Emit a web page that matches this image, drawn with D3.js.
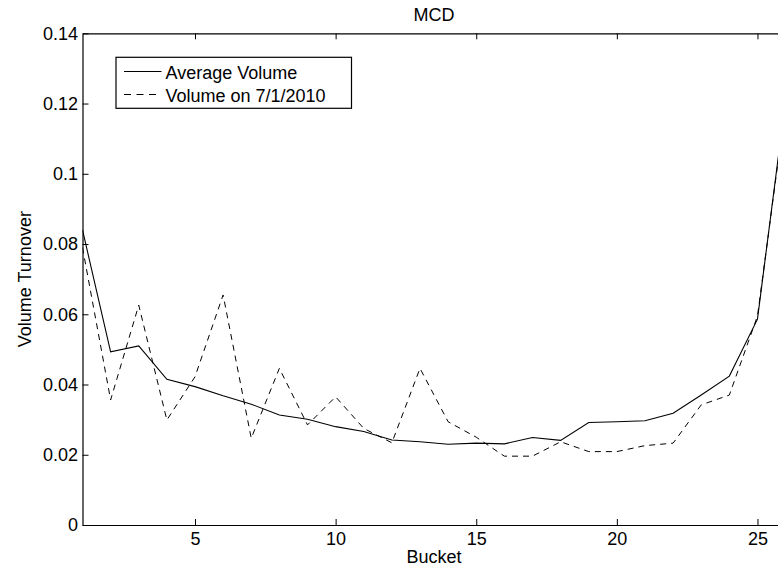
<!DOCTYPE html>
<html>
<head>
<meta charset="utf-8">
<script src="https://cdn.jsdelivr.net/npm/d3@7"></script>
<style>
  body { margin: 0; background: #fff; }
  svg { display: block; font-family: "Liberation Sans", Arial, sans-serif; }
</style>
</head>
<body>
<main></main>
<script>
// Datos
const buckets = d3.range(1, 27);
const avgVolume = [0.084, 0.0493, 0.051, 0.0415, 0.0394, 0.0368, 0.0344, 0.0313, 0.0301, 0.028,
  0.0266, 0.0242, 0.0237, 0.023, 0.0233, 0.0231, 0.0249, 0.0241, 0.0292, 0.0294,
  0.0297, 0.0318, 0.037, 0.0424, 0.0586, 0.121];
const dayVolume = [0.079, 0.0356, 0.0626, 0.0299, 0.0422, 0.0655, 0.0247, 0.0446, 0.0285, 0.0365,
  0.0275, 0.0234, 0.0446, 0.0294, 0.025, 0.0196, 0.0196, 0.0237, 0.0209, 0.0209,
  0.0226, 0.0233, 0.0342, 0.037, 0.0595, 0.1195];
const xTicks = [5, 10, 15, 20, 25];
const yTicks = [0, 0.02, 0.04, 0.06, 0.08, 0.1, 0.12, 0.14];
const seriesNames = ['Average Volume', 'Volume on 7/1/2010'];

var w = 778, h = 571;
var mLeft = 82.5, mRight = 785.6, mTop = 33.3, mBottom = 525;
var fs = '18px';

var svg = d3.select('main').append('svg')
  .attr('width', w)
  .attr('height', h);

// Escalas
const xScale = d3.scaleLinear().domain([1, 26]).range([mLeft, mRight]);
const yScale = d3.scaleLinear().domain([0, 0.14]).range([mBottom, mTop]);

const fmtY = (d) => d === 0 ? '0' : String(+d.toFixed(2));

// Ejes
const xAxis = d3.axisBottom(xScale).tickValues(xTicks).tickSizeInner(-6).tickSizeOuter(0).tickPadding(7);
const yAxis = d3.axisLeft(yScale).tickValues(yTicks).tickFormat(fmtY).tickSizeInner(-6).tickSizeOuter(0).tickPadding(4.5);
const xTop = d3.axisTop(xScale).tickValues(xTicks).tickFormat('').tickSizeInner(-6).tickSizeOuter(0);
const yRight = d3.axisRight(yScale).tickValues(yTicks).tickFormat('').tickSizeInner(-6).tickSizeOuter(0);

function estilo(g) {
  g.selectAll('path.domain').attr('stroke', '#000').attr('stroke-width', 1.2);
  g.selectAll('line').attr('stroke', '#000');
  g.selectAll('text').attr('fill', '#000').style('font-size', fs)
    .style('font-family', '"Liberation Sans", Arial, sans-serif');
}

// Lineas de datos
svg.append('clipPath').attr('id', 'clip')
  .append('rect').attr('x', mLeft).attr('y', mTop)
  .attr('width', mRight - mLeft).attr('height', mBottom - mTop);

const linea = d3.line()
  .x((d, i) => xScale(buckets[i]))
  .y((d) => yScale(d));

svg.append('path')
  .datum(dayVolume)
  .attr('clip-path', 'url(#clip)')
  .attr('fill', 'none')
  .attr('stroke', '#000')
  .attr('stroke-width', 1)
  .attr('stroke-dasharray', '6,5')
  .attr('d', linea);

svg.append('path')
  .datum(avgVolume)
  .attr('clip-path', 'url(#clip)')
  .attr('fill', 'none')
  .attr('stroke', '#000')
  .attr('stroke-width', 1.1)
  .attr('d', linea);

svg.append('g').attr('transform', 'translate(0,' + mBottom + ')').call(xAxis).call(estilo);
svg.append('g').attr('transform', 'translate(' + mLeft + ',0)').call(yAxis).call(estilo);
svg.append('g').attr('transform', 'translate(0,' + mTop + ')').call(xTop).call(estilo);
svg.append('g').attr('transform', 'translate(' + mRight + ',0)').call(yRight).call(estilo);

// Titulo y etiquetas
svg.append('text')
  .attr('x', (mLeft + mRight) / 2).attr('y', 21)
  .attr('text-anchor', 'middle')
  .style('font-size', fs)
  .text('MCD');

svg.append('text')
  .attr('x', (mLeft + mRight) / 2).attr('y', 563)
  .attr('text-anchor', 'middle')
  .style('font-size', fs)
  .text('Bucket');

svg.append('text')
  .attr('transform', 'translate(31,' + ((mTop + mBottom) / 2) + ') rotate(-90)')
  .attr('text-anchor', 'middle')
  .style('font-size', fs)
  .text('Volume Turnover');

// Leyenda
var leg = svg.append('g');
leg.append('rect')
  .attr('x', 116).attr('y', 57.3)
  .attr('width', 235.5).attr('height', 51)
  .attr('fill', '#fff').attr('stroke', '#000').attr('stroke-width', 1.2);

seriesNames.forEach((nombre, i) => {
  var yy = 71.5 + i * 23;
  leg.append('line')
    .attr('x1', 124).attr('x2', 161.5)
    .attr('y1', yy).attr('y2', yy)
    .attr('stroke', '#000')
    .attr('stroke-width', 1)
    .attr('stroke-dasharray', i === 1 ? '7,5.5' : null);
  leg.append('text')
    .attr('x', 165.5).attr('y', yy + 7)
    .style('font-size', fs)
    .text(nombre);
});
</script>
</body>
</html>
